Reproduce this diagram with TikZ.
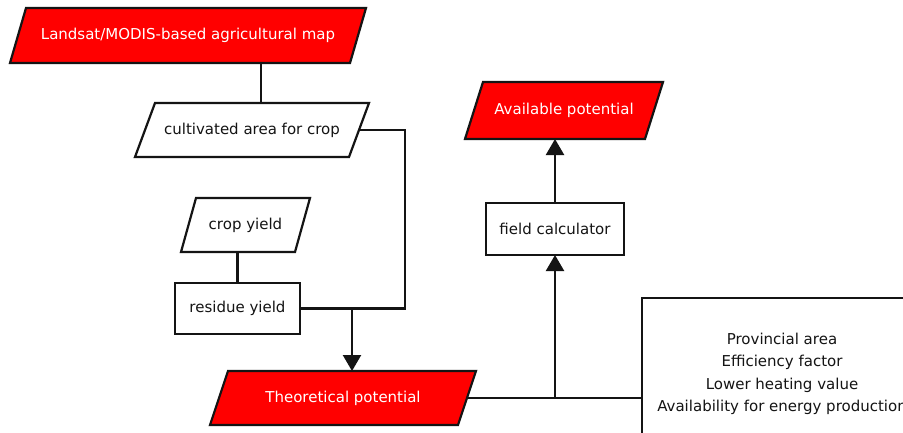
\documentclass[tikz,border=0pt]{standalone}
\usepackage{fontspec}
\setmainfont{DejaVu Sans}
\usetikzlibrary{arrows.meta,backgrounds}
\definecolor{boxred}{RGB}{255,0,0}
\definecolor{ink}{RGB}{20,20,20}
\tikzset{
  x=1pt,y=-1pt,
  every node/.style={font=\fontsize{15}{18}\selectfont},
  txt/.style={inner sep=0pt,outer sep=0pt,text=ink},
  redtxt/.style={inner sep=0pt,outer sep=0pt,text=white},
  rbox/.style={draw=ink,line width=2.2pt,fill=white,inner sep=0pt,outer sep=0pt,text=ink},
  conn/.style={draw=ink,line width=2.2pt},
  arr/.style={conn,-{Triangle[width=18pt,length=16pt]}},
  redpar/.style={draw=ink,line width=2.2pt,fill=boxred},
  whitepar/.style={draw=ink,line width=2.2pt,fill=white},
}
\newcommand\slantbox[3]{%
  \draw[#3] ([xshift=-#2/2]#1.south west) -- ([xshift=-#2/2]#1.south east)
    -- ([xshift=#2/2]#1.north east) -- ([xshift=#2/2]#1.north west) -- cycle;}
\begin{document}
\begin{tikzpicture}
\useasboundingbox (0,0) rectangle (903,432);
\clip (0,0) rectangle (903,432);
% parallelogram text holders
\node[redtxt,minimum width=340pt,minimum height=55pt] (map) at (188,35.5) {Landsat/MODIS-based agricultural map};
\node[txt,minimum width=214pt,minimum height=54pt] (cult) at (252,130) {cultivated area for crop};
\node[txt,minimum width=114pt,minimum height=54pt] (crop) at (245.5,225) {crop yield};
\node[redtxt,minimum width=248pt,minimum height=54pt] (theo) at (343,398) {Theoretical potential};
\node[redtxt,minimum width=180pt,minimum height=57pt] (avail) at (564,110.5) {Available potential};
% rectangles
\node[rbox,minimum width=280pt,minimum height=152pt,align=center,
      font=\fontsize{15}{22.3}\selectfont] (param) at (782,374)
  {Provincial area\\Efficiency factor\\Lower heating value\\Availability for energy production};
\node[rbox,minimum width=125pt,minimum height=51pt] (res) at (237.5,308.5) {residue yield};
\node[rbox,minimum width=138pt,minimum height=52pt] (fc) at (555,229) {field calculator};
\begin{scope}[on background layer]
\fill[white] (0,0) rectangle (903,432);
\slantbox{map}{16pt}{redpar}
\slantbox{cult}{20pt}{whitepar}
\slantbox{crop}{15pt}{whitepar}
\slantbox{theo}{18pt}{redpar}
\slantbox{avail}{18pt}{redpar}
\end{scope}
% connectors
\coordinate (j1) at (352,308.5);
\draw[conn] ([xshift=73pt]map.south) -- ([xshift=73pt]map.south |- cult.north);
\draw[conn] (cult.east) -- ++(46,0) |- (res.east);
\draw[arr] (j1) -- (j1 |- theo.north);
\draw[conn] (res.north |- crop.south) -- (res.north);
\draw[conn] (theo.east) -- (theo.east -| param.west);
\draw[arr] (theo.east -| fc.south) -- (fc.south);
\draw[arr] (fc.north) -- (fc.north |- avail.south);
\end{tikzpicture}
\end{document}
